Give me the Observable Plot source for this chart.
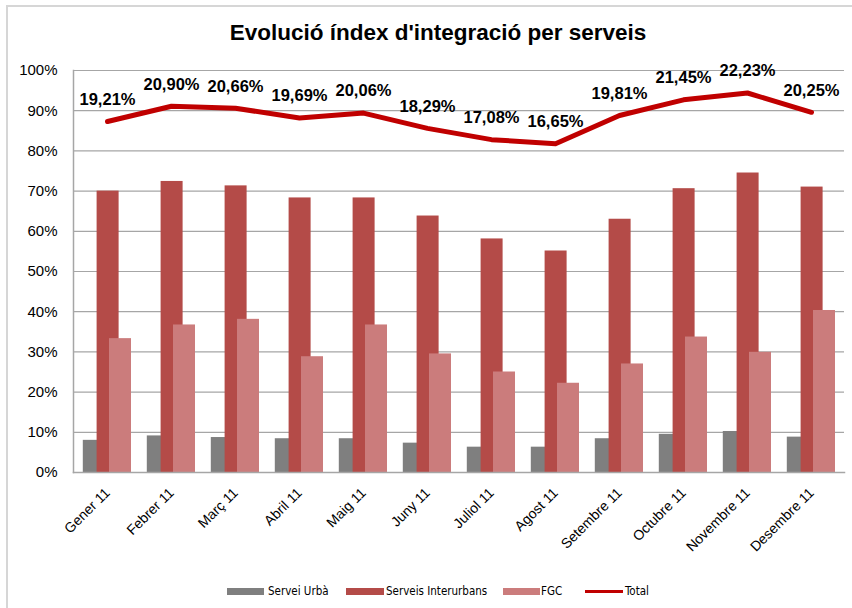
<!DOCTYPE html>
<html>
<head>
<meta charset="utf-8">
<script src="https://cdn.jsdelivr.net/npm/d3@7"></script>
<script src="https://cdn.jsdelivr.net/npm/@observablehq/plot@0.6"></script>
<style>
  html, body { margin: 0; padding: 0; background: #fff; }
  #wrap { position: relative; width: 852px; height: 608px; overflow: hidden; font-family: "Liberation Sans", Arial, sans-serif; }
  #border { position: absolute; left: 6px; top: 5px; width: 900px; height: 700px; border: 2px solid #d6d6d6; box-sizing: border-box; }
  #title { position: absolute; left: 0; top: 20px; width: 876px; text-align: center; font-weight: bold; font-size: 22.5px; line-height: 26px; color: #000; }
  #chart { position: absolute; left: 0; top: 62px; }
  .sw { position: absolute; top: 588px; height: 7px; }
  .ln { position: absolute; top: 590px; height: 3px; }
  .lt { position: absolute; top: 583px; line-height: 16px; font-size: 11.5px; color: #000; font-family: "Liberation Sans Narrow", "Arial Narrow", "DejaVu Sans Condensed", sans-serif; }
</style>
</head>
<body>
<div id="wrap">
  <div id="border"></div>
  <div id="title">Evolució índex d'integració per serveis</div>
  <div id="chart"></div>
  <div class="sw" style="left:227px;width:37px;background:#7f7f7f"></div>
  <div class="lt" style="left:268px">Servei Urbà</div>
  <div class="sw" style="left:346px;width:38px;background:#b44b48"></div>
  <div class="lt" style="left:386px">Serveis Interurbans</div>
  <div class="sw" style="left:503px;width:37px;background:#cb7c7c"></div>
  <div class="lt" style="left:541px">FGC</div>
  <div class="ln" style="left:585px;width:38px;background:#c00000"></div>
  <div class="lt" style="left:625px">Total</div>
</div>
<script>
const months = ["Gener 11","Febrer 11","Març 11","Abril 11","Maig 11","Juny 11","Juliol 11","Agost 11","Setembre 11","Octubre 11","Novembre 11","Desembre 11"];
const serveiUrba = [8.0, 9.1, 8.7, 8.4, 8.4, 7.3, 6.3, 6.3, 8.4, 9.5, 10.2, 8.8];
const serveisInterurbans = [70.0, 72.4, 71.3, 68.3, 68.3, 63.8, 58.1, 55.1, 63.0, 70.6, 74.5, 71.0];
const fgc = [33.3, 36.7, 38.1, 28.8, 36.7, 29.5, 25.0, 22.2, 27.0, 33.7, 29.9, 40.3];
const total = [87.3, 91.1, 90.6, 88.2, 89.4, 85.6, 82.8, 81.8, 88.8, 92.7, 94.4, 89.6];
const totalLabels = ["19,21%","20,90%","20,66%","19,69%","20,06%","18,29%","17,08%","16,65%","19,81%","21,45%","22,23%","20,25%"];
const yTicks = [0,10,20,30,40,50,60,70,80,90,100];

const rows = (vals) => months.map((m, i) => ({month: m, value: vals[i]}));
const totalRows = months.map((m, i) => ({month: m, value: total[i], label: totalLabels[i]}));

const chart = Plot.plot({
  width: 852,
  height: 500,
  marginLeft: 73,
  marginRight: 8,
  marginTop: 8,
  marginBottom: 90,
  style: {fontFamily: "'Liberation Sans', Arial, sans-serif", background: "transparent", overflow: "visible"},
  x: {type: "band", domain: months, paddingInner: 0.6576, paddingOuter: 0.3288, label: null},
  y: {domain: [0, 100], label: null},
  marks: [
    Plot.gridY(yTicks, {stroke: "#a6a6a6", strokeOpacity: 1, strokeWidth: 1.2}),
    Plot.frame({anchor: "left", stroke: "#a6a6a6", strokeWidth: 1.5}),
    Plot.barY(rows(serveiUrba), {x: "month", y: "value", fill: "#7f7f7f", dx: -13.2}),
    Plot.barY(rows(serveisInterurbans), {x: "month", y: "value", fill: "#b44b48", dx: 0.6}),
    Plot.barY(rows(fgc), {x: "month", y: "value", fill: "#cb7c7c", dx: 13}),
    Plot.frame({anchor: "bottom", stroke: "#a6a6a6", strokeWidth: 1.5}),
    Plot.lineY(totalRows, {x: "month", y: "value", stroke: "#c00000", strokeWidth: 5, strokeLinejoin: "round", strokeLinecap: "round"}),
    Plot.text(totalRows, {x: "month", y: "value", text: "label", dy: -22, fontSize: 16.5, fontWeight: "bold", fill: "#000"}),
    Plot.axisY(yTicks, {tickSize: 0, tickPadding: 16, tickFormat: d => d + "%", fontSize: 15, fill: "#000", label: null}),
    Plot.axisX({tickSize: 0, tickPadding: 18, tickRotate: -45, fontSize: 14, fill: "#000", label: null})
  ]
});
document.getElementById("chart").appendChild(chart);
</script>
</body>
</html>
